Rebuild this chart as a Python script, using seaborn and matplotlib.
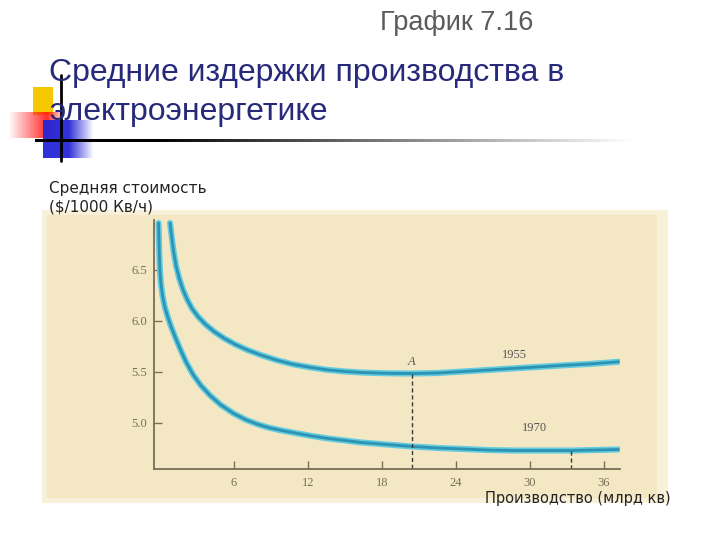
import numpy as np
import pandas as pd
import matplotlib
matplotlib.use("Agg")
import matplotlib.pyplot as plt
import seaborn as sns
from matplotlib.patches import Rectangle
from matplotlib.lines import Line2D

# ==========================================================
# DATA
# ==========================================================

x_1955 = [0.81, 0.95, 1.1, 1.3, 1.55, 1.85, 2.2, 2.6, 3.1, 3.7, 4.4, 5.2,
          6.1, 7.1, 8.2, 9.5, 10.8, 12.2, 13.5, 15.0, 16.5, 18.5, 20.4, 22.5,
          24.6, 26.6, 28.6, 30.7, 32.7, 35.0, 37.17]
y_1955 = [6.96, 6.82, 6.68, 6.54, 6.42, 6.31, 6.21, 6.12, 6.04, 5.965, 5.895, 5.83,
          5.77, 5.715, 5.665, 5.615, 5.575, 5.545, 5.522, 5.505, 5.494, 5.487, 5.485,
          5.49, 5.505, 5.52, 5.535, 5.55, 5.565, 5.58, 5.60]

x_1970 = [-0.12, -0.09, -0.05, 0.0, 0.08, 0.2, 0.38, 0.6, 0.85, 1.2, 1.62,
          2.1, 2.7, 3.3, 4.06, 4.9, 5.94, 6.9, 7.84, 8.8, 9.73, 10.81, 12.2,
          13.52, 14.9, 16.22, 18.3, 20.41, 22.5, 24.6, 26.6, 28.65, 31.0,
          33.31, 35.2, 37.17]
y_1970 = [6.96, 6.80, 6.62, 6.48, 6.36, 6.25, 6.14, 6.05, 5.96, 5.85, 5.73,
          5.60, 5.47, 5.37, 5.27, 5.18, 5.095, 5.035, 4.99, 4.955, 4.93, 4.905, 4.875,
          4.85, 4.83, 4.81, 4.79, 4.77, 4.755, 4.745, 4.735, 4.73, 4.73,
          4.73, 4.735, 4.74]

x_ticks = [6, 12, 18, 24, 30, 36]
y_ticks = [5.0, 5.5, 6.0, 6.5]

point_a = (20.41, 5.485)
point_b = (33.31, 4.73)

# ==========================================================
# FIGURE
# ==========================================================

W, H = 720, 540
sns.set_theme(style="white")
plt.rcParams["font.family"] = ["DejaVu Sans"]

fig = plt.figure(figsize=(7.2, 5.4), dpi=100)
fig.patch.set_facecolor("white")


def fx(px):
    return px / W


def fy(py):
    return 1 - py / H


# scanned beige background (own axes, drawn below the chart)
bg_ax = fig.add_axes([0, 0, 1, 1], zorder=0)
bg_ax.set_xlim(0, W)
bg_ax.set_ylim(H, 0)
bg_ax.axis("off")
bg_ax.add_patch(Rectangle((42, 210), 626, 293, facecolor="#F8F0D8", edgecolor="none"))
bg_ax.add_patch(Rectangle((47, 215), 610, 283, facecolor="#F4E8C4", edgecolor="none"))

# ----------------------------------------------------------
# slide decoration
# ----------------------------------------------------------

bg_ax.add_patch(Rectangle((33, 87), 20, 28, facecolor="#F6C800", edgecolor="none"))

red_ax = fig.add_axes([fx(8), fy(138), fx(52), fy(0) - fy(26)], zorder=1)
red_grad = np.zeros((10, 60, 4))
red_grad[..., 0] = 1.0
red_grad[..., 1] = 0.1
red_grad[..., 2] = 0.1
red_grad[..., 3] = np.concatenate([np.linspace(0.0, 0.9, 45), np.linspace(0.9, 0.3, 15)])
red_ax.imshow(red_grad, aspect="auto")
red_ax.axis("off")

blue_ax = fig.add_axes([fx(43), fy(158), fx(50), fy(0) - fy(38)], zorder=2)
blue_grad = np.zeros((10, 60, 4))
blue_grad[..., 0] = 0.15
blue_grad[..., 1] = 0.15
blue_grad[..., 2] = 0.85
blue_grad[..., 3] = np.concatenate([np.full(30, 0.95), np.linspace(0.95, 0.0, 30)])
blue_ax.imshow(blue_grad, aspect="auto")
blue_ax.axis("off")

line_ax = fig.add_axes([fx(35), fy(142.5), fx(600), fy(0) - fy(3.5)], zorder=3)
line_grad = np.zeros((2, 300, 4))
line_grad[..., 3] = np.concatenate([np.full(60, 1.0), np.linspace(1.0, 0.0, 240)])
line_ax.imshow(line_grad, aspect="auto")
line_ax.axis("off")

fig.add_artist(Line2D([fx(61), fx(61)], [fy(75), fy(161)],
                      transform=fig.transFigure, color="black", lw=2, zorder=5))

# ----------------------------------------------------------
# slide texts
# ----------------------------------------------------------

fig.text(fx(380), fy(23), "График 7.16", fontsize=19.5, color="#5A5A5A",
         family=["Liberation Sans", "DejaVu Sans"], va="center", ha="left")

fig.text(fx(49), fy(73), "Средние издержки производства в", fontsize=23,
         color="#27297A", family=["Liberation Sans", "DejaVu Sans"],
         va="center", ha="left", zorder=6)
fig.text(fx(49), fy(112), "электроэнергетике", fontsize=23,
         color="#27297A", family=["Liberation Sans", "DejaVu Sans"],
         va="center", ha="left", zorder=6)

fig.text(fx(49), fy(188), "Средняя стоимость", fontsize=11, color="#222222",
         va="center", ha="left")
fig.text(fx(49), fy(207), "($/1000 Кв/ч)", fontsize=11, color="#222222",
         va="center", ha="left")

fig.text(fx(485), fy(498), "Производство (млрд кв)", fontsize=10.5,
         color="#222222", va="center", ha="left", zorder=6)

# ==========================================================
# CHART
# ==========================================================

ax = fig.add_axes([fx(154), fy(469), fx(620) - fx(154), fy(220) - fy(469)], zorder=4)
ax.set_facecolor("none")

df = pd.concat([
    pd.DataFrame({"x": x_1955, "y": y_1955, "year": "1955"}),
    pd.DataFrame({"x": x_1970, "y": y_1970, "year": "1970"}),
])

# cyan halo + darker core
sns.lineplot(data=df, x="x", y="y", units="year", estimator=None, sort=False,
             color="#62CBDF", linewidth=4.4, ax=ax, legend=False)
sns.lineplot(data=df, x="x", y="y", units="year", estimator=None, sort=False,
             color="#2E93B2", linewidth=2.0, ax=ax, legend=False)

ax.plot([point_a[0], point_a[0]], [point_a[1], 4.55], ls=(0, (3, 2)),
        color="#3A3A3A", lw=1.0)
ax.plot([point_b[0], point_b[0]], [point_b[1], 4.55], ls=(0, (3, 2)),
        color="#3A3A3A", lw=1.0)

ax.text(point_a[0], 5.60, "A", fontsize=9, style="italic", color="#555555",
        family=["Liberation Serif", "DejaVu Serif"], ha="center", va="center")
ax.text(28.7, 5.67, "1955", fontsize=9, color="#555555",
        family=["Liberation Serif", "DejaVu Serif"], ha="center", va="center")
ax.text(30.4, 4.95, "1970", fontsize=9, color="#555555",
        family=["Liberation Serif", "DejaVu Serif"], ha="center", va="center")

ax.set_xlim(-0.49, 37.3)
ax.set_ylim(4.549, 6.99)
ax.set_xticks(x_ticks)
ax.set_yticks(y_ticks)
ax.set_xticklabels([str(t) for t in x_ticks])
ax.set_yticklabels([f"{t:.1f}" for t in y_ticks])
ax.set_xlabel("")
ax.set_ylabel("")

for side in ["top", "right"]:
    ax.spines[side].set_visible(False)
for side in ["left", "bottom"]:
    ax.spines[side].set_color("#7A6E58")
    ax.spines[side].set_linewidth(1.3)

ax.tick_params(axis="both", direction="in", length=6, width=1.0,
               bottom=True, left=True,
               color="#7A6E58", labelcolor="#7A6E58", labelsize=9)
ax.tick_params(axis="x", pad=6)
ax.tick_params(axis="y", pad=5)
for lab in ax.get_xticklabels() + ax.get_yticklabels():
    lab.set_family(["Liberation Serif", "DejaVu Serif"])

fig.savefig("out.png", dpi=100)
plt.close(fig)
